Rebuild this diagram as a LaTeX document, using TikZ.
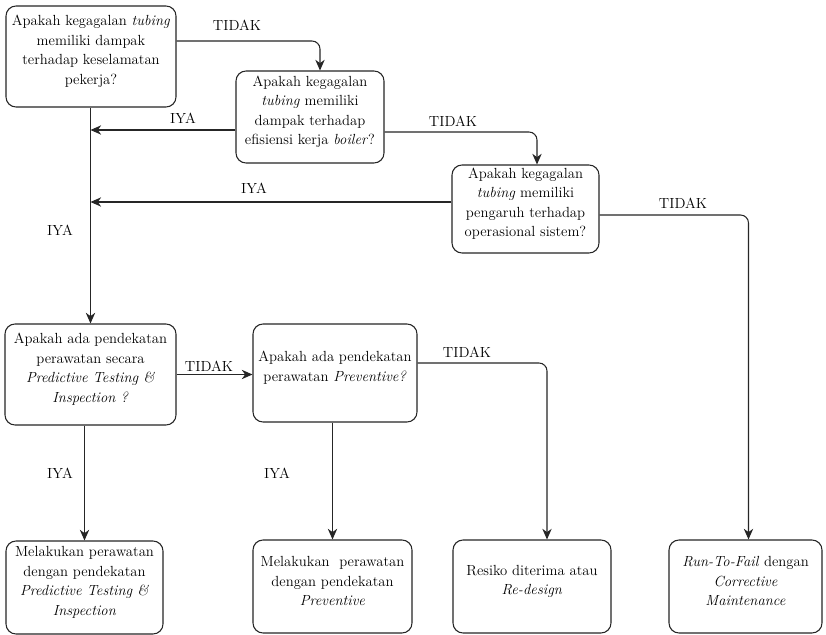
\documentclass[tikz,border=0pt]{standalone}
\usetikzlibrary{arrows.meta,calc,fit}

\begin{document}
\begin{tikzpicture}[x=0.75pt,y=-0.75pt,
  box/.style={draw=black!85, line width=0.8pt, rounded corners=7.5pt, inner sep=0pt,
    align=center, font=\fontsize{11pt}{14.6pt}\selectfont},
  arr/.style={draw=black!85, line width=0.8pt,
    -{Stealth[length=8pt,width=7pt,inset=2.5pt]}, rounded corners=6pt},
  lbl/.style={font=\fontsize{11pt}{14.6pt}\selectfont, inner sep=0pt}]
\useasboundingbox[fill=white] (0,0) rectangle (826,635);

% decision boxes
\node[box, fit={(6,6) (176,107)}] (A)
  {Apakah kegagalan \textit{tubing}\\ memiliki dampak\\ terhadap keselamatan\\ pekerja?};
\node[box, fit={(236,71) (384,163)}] (B)
  {Apakah kegagalan\\ \textit{tubing} memiliki\\ dampak terhadap\\ efisiensi kerja \textit{boiler}?};
\node[box, fit={(452,165) (599,253)}] (C)
  {Apakah kegagalan\\ \textit{tubing} memiliki\\ pengaruh terhadap\\ operasional sistem?};
\node[box, fit={(5,324) (176,425)}] (D)
  {Apakah ada pendekatan\\ perawatan secara\\ \textit{Predictive Testing \&}\\ \textit{Inspection ?}};
\node[box, fit={(253,324) (417,422)}] (E)
  {Apakah ada pendekatan\\ perawatan \textit{Preventive?}};

% outcome boxes
\node[box, fit={(6,541) (163,634)}] (F)
  {Melakukan perawatan\\ dengan pendekatan\\ \textit{Predictive Testing \&}\\ \textit{Inspection}};
\node[box, fit={(253,540) (412,633)}] (G)
  {Melakukan~ perawatan\\ dengan pendekatan\\ \textit{Preventive}};
\node[box, fit={(453,540) (611,633)}] (H)
  {Resiko diterima atau\\ \textit{Re-design}};
\node[box, fit={(669,540) (822,633)}] (I)
  {\textit{Run-To-Fail} dengan\\ \textit{Corrective}\\ \textit{Maintenance}};

% junctions on the shared vertical line
\coordinate (jB) at (90.5,130);
\coordinate (jC) at (90.5,202);

% connectors
\draw[arr] ($(A.east)+(0,-15.5)$) -| ($(B.north)+(10,0)$);
\draw[arr] ($(B.east)+(0,15)$) -| ($(C.north)+(11.5,0)$);
\draw[arr] ($(B.west)+(0,13)$) -- (jB);
\draw[arr] ($(C.west)+(0,-7)$) -- (jC);
\draw[arr] (A.south -| D.north) -- (D.north);
\draw[arr] ($(C.east)+(0,6)$) -| ($(I.north)+(3,0)$);
\draw[arr] (D.east) -- (D.east -| E.west);
\draw[arr] ($(E.east)+(0,-10)$) -| ($(H.north)+(15,0)$);
\draw[arr] (F.north |- D.south) -- (F.north);
\draw[arr] (G.north |- E.south) -- (G.north);

% branch labels
\node[lbl] (t1) at (237,25) {TIDAK};
\node[lbl] (y1) at (183,118) {IYA};
\node[lbl] (t2) at (453,121) {TIDAK};
\node[lbl] (y2) at (254,188) {IYA};
\node[lbl] (t3) at (683,203) {TIDAK};
\node[lbl] (y3) at (60,230) {IYA};
\node[lbl] (t4) at (209,366) {TIDAK};
\node[lbl] (t5) at (467,352) {TIDAK};
\node[lbl] (y4) at (60,473) {IYA};
\node[lbl] (y5) at (277,473) {IYA};
\end{tikzpicture}
\end{document}
